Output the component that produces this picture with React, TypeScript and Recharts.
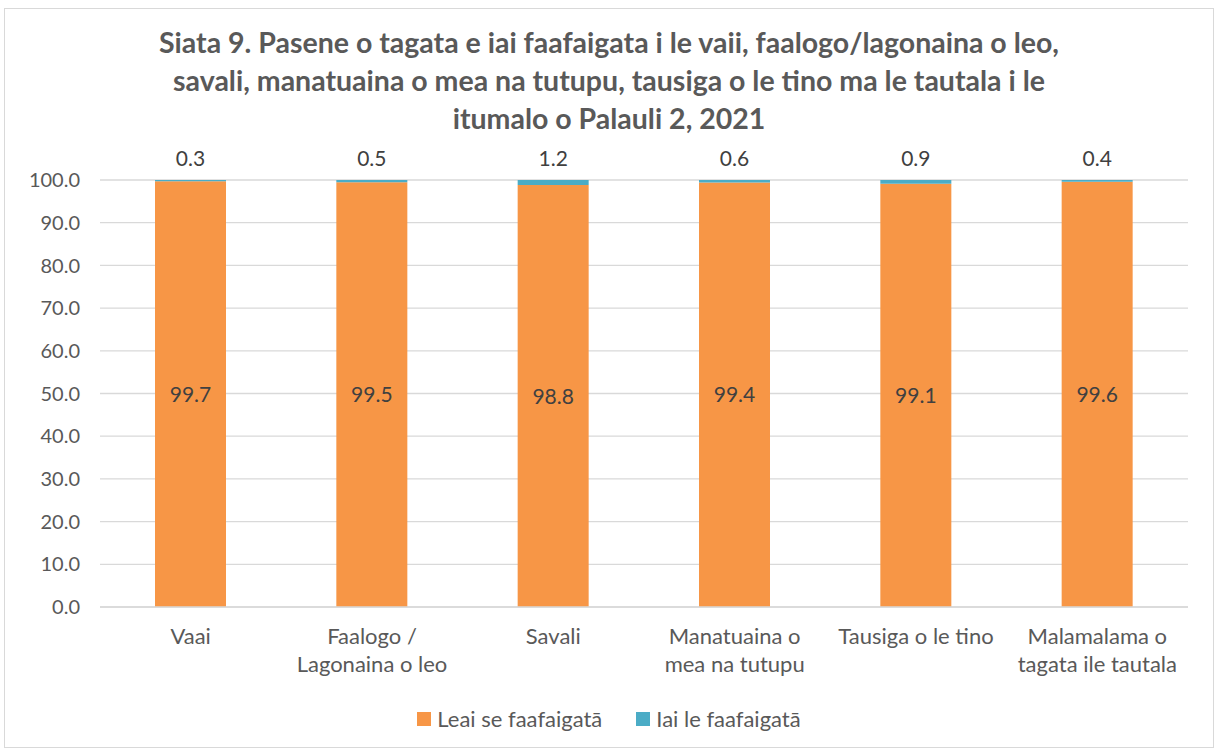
import React from "react";
import { BarChart, Bar, XAxis, YAxis, CartesianGrid, LabelList } from "recharts";

const categories = [
  "Vaai",
  "Faalogo /\nLagonaina o leo",
  "Savali",
  "Manatuaina o\nmea na tutupu",
  "Tausiga o le tino",
  "Malamalama o\ntagata ile tautala",
];
const noDifficulty = [99.7, 99.5, 98.8, 99.4, 99.1, 99.6];
const withDifficulty = [0.3, 0.5, 1.2, 0.6, 0.9, 0.4];
const yTicks = [0, 10, 20, 30, 40, 50, 60, 70, 80, 90, 100];
const seriesNames = ["Leai se faafaigatā", "Iai le faafaigatā"];
const titleLines = [
  "Siata 9. Pasene o tagata e iai faafaigata i le vaii, faalogo/lagonaina o leo,",
  "savali, manatuaina o mea na tutupu, tausiga o le tino ma le tautala i le",
  "itumalo o Palauli 2, 2021",
];

const data = categories.map((c, i) => ({
  name: c,
  a: noDifficulty[i],
  b: withDifficulty[i],
}));

const FONT = "Lato, 'Open Sans', sans-serif";
const ORANGE = "#F79646";
const BLUE = "#4BACC6";

const XTick = (props: any) => {
  const { x, y, payload } = props;
  const lines = String(payload.value).split("\n");
  return (
    <g transform={`translate(${x},${y})`}>
      {lines.map((l, i) => (
        <text
          key={i}
          x={0}
          y={29 + i * 28}
          textAnchor="middle"
          fill="#595959"
          fontSize={22}
          fontFamily={FONT}
        >
          {l}
        </text>
      ))}
    </g>
  );
};

export default function App() {
  return (
    <div style={{ position: "absolute", left: 0, top: 0, width: 1218, height: 751, background: "#fff", fontFamily: FONT }}>
      <div style={{ position: "absolute", left: 4, top: 8, width: 1210, height: 740, border: "1px solid #d9d9d9", boxSizing: "border-box" }} />
      <div style={{ position: "absolute", left: 0, top: 23, width: 1218, textAlign: "center", color: "#595959", fontWeight: 700, fontSize: 28.5, lineHeight: "38px" }}>
        {titleLines.map((t, i) => (
          <div key={i}>{t}</div>
        ))}
      </div>
      <div style={{ position: "absolute", left: 0, top: 0 }}>
        <BarChart
          width={1218}
          height={751}
          data={data}
          margin={{ top: 180, right: 30, left: 0, bottom: 64 }}
          barSize={71}
        >
          <CartesianGrid vertical={false} stroke="#d9d9d9" strokeWidth={1.3} />
          <XAxis
            dataKey="name"
            tick={<XTick />}
            tickLine={false}
            axisLine={{ stroke: "#d9d9d9", strokeWidth: 1.3 }}
            height={80}
            interval={0}
          />
          <YAxis
            width={100}
            domain={[0, 100]}
            ticks={yTicks}
            tickFormatter={(v: number) => v.toFixed(1)}
            tick={{ fill: "#595959", fontSize: 20, fontFamily: FONT }}
            tickLine={false}
            axisLine={false}
            tickMargin={14}
          />
          <Bar dataKey="a" stackId="s" fill={ORANGE} isAnimationActive={false}>
            <LabelList
              dataKey="a"
              position="center"
              fill="#404040"
              fontSize={21}
              fontFamily={FONT}
              formatter={(v: any) => Number(v).toFixed(1)}
            />
          </Bar>
          <Bar dataKey="b" stackId="s" fill={BLUE} isAnimationActive={false}>
            <LabelList
              dataKey="b"
              position="top"
              offset={14}
              fill="#404040"
              fontSize={21}
              fontFamily={FONT}
              formatter={(v: any) => Number(v).toFixed(1)}
            />
          </Bar>
        </BarChart>
      </div>
      <div style={{ position: "absolute", left: 0, top: 705, width: 1218, display: "flex", justifyContent: "center", alignItems: "center", gap: 34, color: "#595959", fontSize: 22 }}>
        {seriesNames.map((n, i) => (
          <div key={i} style={{ display: "flex", alignItems: "center" }}>
            <span style={{ display: "inline-block", width: 14, height: 14, background: i === 0 ? ORANGE : BLUE, marginRight: 6 }} />
            <span>{n}</span>
          </div>
        ))}
      </div>
    </div>
  );
}
